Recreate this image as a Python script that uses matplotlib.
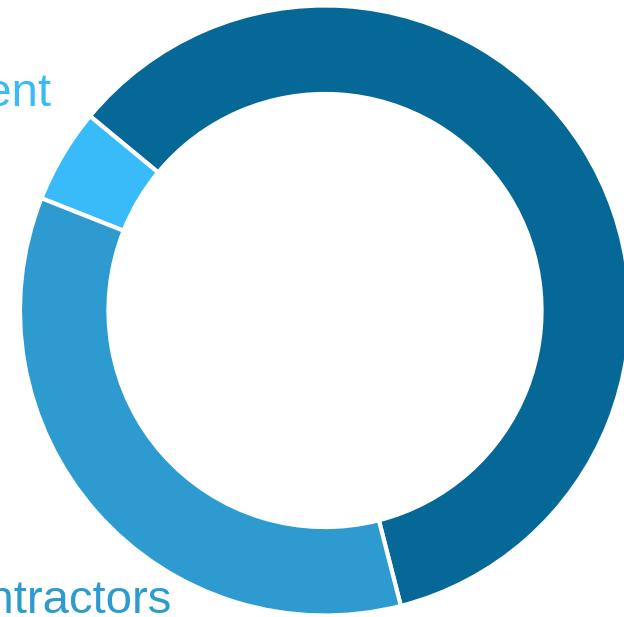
import matplotlib
matplotlib.use("Agg")
import matplotlib.pyplot as plt

# Workforce split
labels = ["Employees", "Government", "Contractors"]
shares = [60, 5, 35]
colors = ["#066896", "#38bbf8", "#2e9bd0"]

# label anchors (right end, baseline) in data units; None = no label
label_pos = [None, (-0.896, 0.670), (-0.502, -0.992)]

plt.rcParams["font.family"] = ["Liberation Sans", "DejaVu Sans"]

fig = plt.figure(figsize=(6.24, 6.17), dpi=100)
ax = fig.add_axes([0, 0, 1, 1])

ax.pie(shares, colors=colors, startangle=-75.6, counterclock=True,
       radius=1.0,
       wedgeprops=dict(width=0.29, edgecolor="white", linewidth=3))

for name, pos, col in zip(labels, label_pos, colors):
    if pos is None:
        continue
    ax.text(pos[0], pos[1], name, color=col, fontsize=34,
            ha="right", va="baseline")

# centre sits at pixel (325, 310.5), 305 px per unit
ax.set_aspect("auto")
ax.set_xlim(-325 / 305, (624 - 325) / 305)
ax.set_ylim(-(617 - 310.5) / 305, 310.5 / 305)
ax.axis("off")

fig.savefig("out.png", dpi=100)
